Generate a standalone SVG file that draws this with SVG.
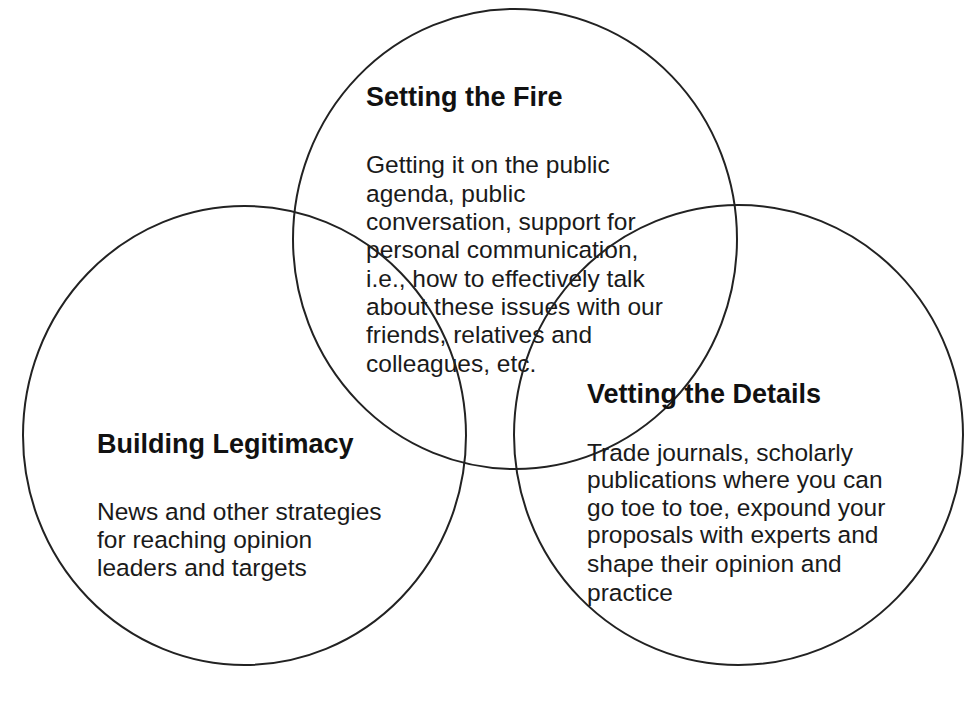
<svg xmlns="http://www.w3.org/2000/svg" width="975" height="702" viewBox="0 0 975 702">
<style>
.c{fill:none;stroke:#222;stroke-width:2}
.t{font-family:"Liberation Sans",Arial,sans-serif;font-weight:bold;font-size:27px;fill:#111}
.b{font-family:"Liberation Sans",Arial,sans-serif;font-size:24.5px;fill:#1a1a1a}
</style>
<rect width="975" height="702" fill="#fff"/>
<g id="fire">
<ellipse class="c" cx="515" cy="239" rx="222" ry="230"/>
<text class="t" x="366" y="106">Setting the Fire</text>
<text class="b" x="366" y="173">Getting it on the public</text>
<text class="b" x="366" y="202">agenda, public</text>
<text class="b" x="366" y="230">conversation, support for</text>
<text class="b" x="366" y="258">personal communication,</text>
<text class="b" x="366" y="287">i.e., how to effectively talk</text>
<text class="b" x="366" y="315">about these issues with our</text>
<text class="b" x="366" y="343">friends, relatives and</text>
<text class="b" x="366" y="372">colleagues, etc.</text>
</g>
<g id="legitimacy">
<ellipse class="c" cx="244.5" cy="435.5" rx="221.5" ry="229.5"/>
<text class="t" x="97" y="453">Building Legitimacy</text>
<text class="b" x="97" y="520">News and other strategies</text>
<text class="b" x="97" y="548">for reaching opinion</text>
<text class="b" x="97" y="576">leaders and targets</text>
</g>
<g id="details">
<ellipse class="c" cx="738.5" cy="435" rx="224.5" ry="230"/>
<text class="t" x="587" y="403">Vetting the Details</text>
<text class="b" x="587" y="461">Trade journals, scholarly</text>
<text class="b" x="587" y="488">publications where you can</text>
<text class="b" x="587" y="516">go toe to toe, expound your</text>
<text class="b" x="587" y="543">proposals with experts and</text>
<text class="b" x="587" y="572">shape their opinion and</text>
<text class="b" x="587" y="601">practice</text>
</g>
<g id="connectors"/>
</svg>
